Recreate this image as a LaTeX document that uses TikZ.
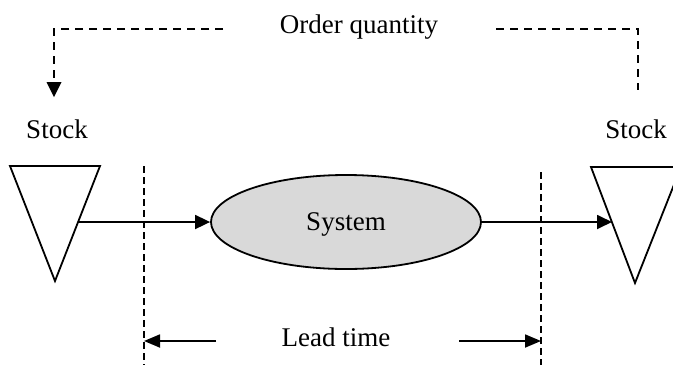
\documentclass[tikz,border=0pt]{standalone}
\usepackage{fontspec}
\setmainfont{Liberation Serif}
\usetikzlibrary{arrows.meta,shapes.geometric}
\begin{document}
\begin{tikzpicture}[x=1pt,y=-1pt,
  line/.style={line width=1.8pt},
  dashline/.style={line width=1.8pt, dash pattern=on 8pt off 6pt},
  guide/.style={line width=1.6pt, dash pattern=on 7pt off 4pt},
  label/.style={font=\fontsize{27}{32}\selectfont, inner sep=0pt, anchor=base},
  stockshape/.style={line width=1.8pt, fill=white},
]
\useasboundingbox (0,0) rectangle (673,365);

% stock triangles
\draw[stockshape] (10,166) -- (100,166) -- (55,281) -- cycle;
\draw[stockshape] (591,167) -- (681,167) -- (635,283) -- cycle;
\coordinate (outL) at (78,222);
\coordinate (inR) at (612,222);

% system
\node[ellipse, draw, line width=1.8pt, fill={rgb,255:red,217;green,217;blue,217},
      minimum width=270pt, minimum height=94pt, inner sep=0pt]
      (sys) at (346,222) {};
\node[label] (systxt) at (346,230) {System};

\draw[line, -{Triangle[length=15pt,width=14pt]}] (outL) -- (sys.west);
\draw[line, -{Triangle[length=15pt,width=14pt]}] (sys.east) -- (inR);

% lead time boundaries
\coordinate (g1t) at (144,166);
\coordinate (g1b) at (144,365);
\coordinate (g2t) at (541,172);
\coordinate (g2b) at (541,365);
\draw[guide] (g1t) -- (g1b);
\draw[guide] (g2t) -- (g2b);

% labels
\node[label] (oq) at (359,33.5) {Order quantity};
\node[label] (sl) at (57,138.5) {Stock};
\node[label] (sr) at (636,138.5) {Stock};
\node[label] (lt) at (336,346.7) {Lead time};

% lead time arrows
\coordinate (l1) at (216,341);
\coordinate (l1e) at (144,341);
\coordinate (l2) at (459,341);
\coordinate (l2e) at (541,341);
\draw[line, -{Triangle[length=16pt,width=13pt]}] (l1) -- (l1e);
\draw[line, -{Triangle[length=16pt,width=13pt]}] (l2) -- (l2e);

% order quantity feedback
\coordinate (o1) at (223,29);
\coordinate (o1c) at (54,29);
\coordinate (o1h) at (54,84);
\coordinate (o1e) at (54,97);
\coordinate (o2) at (496,29);
\coordinate (o2c) at (638,29);
\coordinate (o2e) at (638,90);
\draw[dashline] (o1) -- (o1c) -- (o1h);
\fill (o1e) -- ++(-7.5,-15) -- ++(15,0) -- cycle;
\draw[dashline] (o2) -- (o2c) -- (o2e);
\end{tikzpicture}
\end{document}
